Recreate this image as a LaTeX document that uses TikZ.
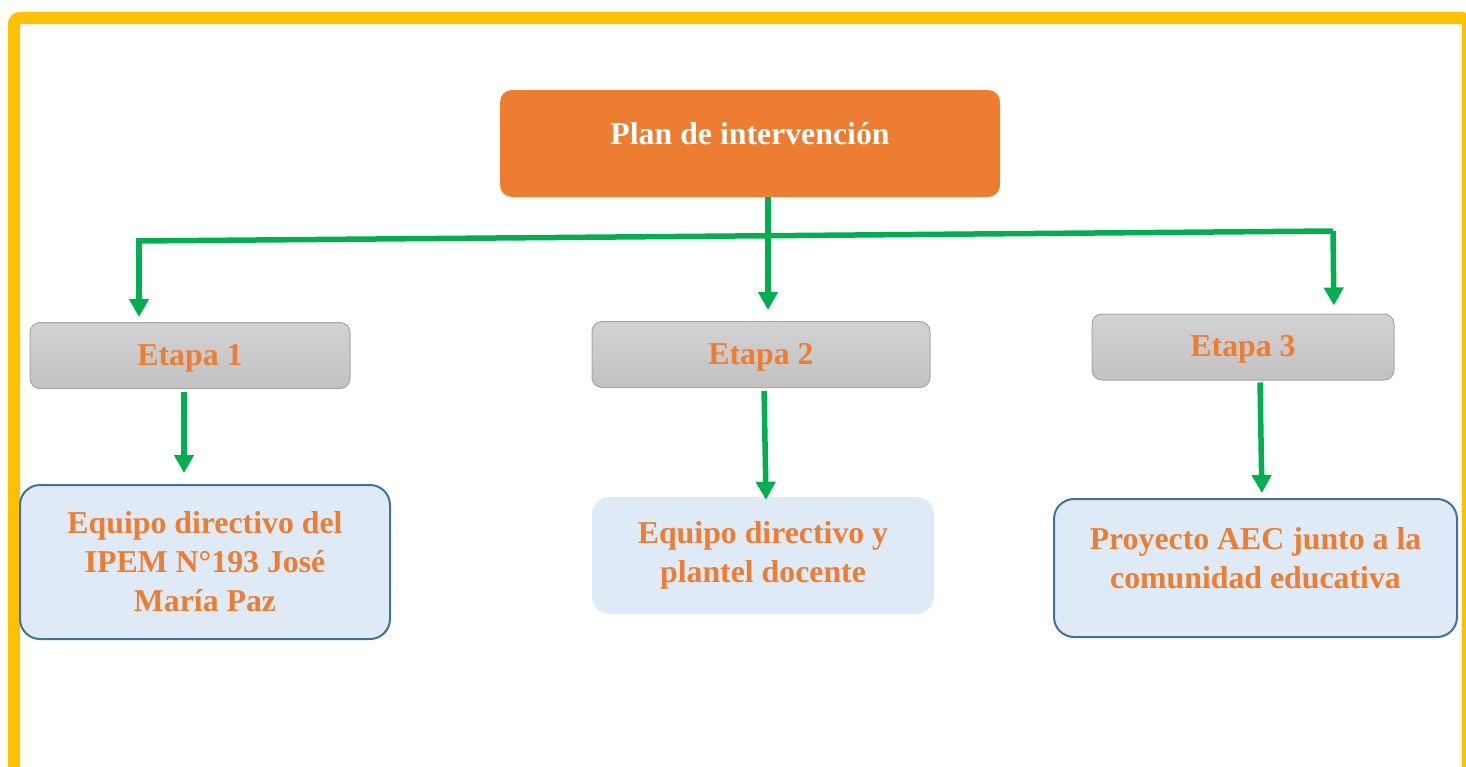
\documentclass[tikz,border=0pt]{standalone}
\usepackage{fontspec}
\setmainfont{Liberation Serif}
\usetikzlibrary{arrows.meta}

\definecolor{planorange}{HTML}{ED7D31}
\definecolor{linkgreen}{HTML}{00B050}
\definecolor{frameyellow}{HTML}{FFC000}
\definecolor{boxblue}{HTML}{DEEAF6}
\definecolor{boxedge}{HTML}{41719C}
\definecolor{grayedge}{HTML}{A6A6A6}

\tikzset{
  plan/.style={rectangle, rounded corners=12pt, fill=planorange, text=white,
    inner sep=0pt, minimum width=500pt, minimum height=107pt, text depth=20pt},
  etapa/.style={rectangle, rounded corners=10pt, draw=grayedge, line width=1pt,
    top color=gray!35, bottom color=gray!48, text=planorange,
    inner sep=0pt, minimum height=66pt, text depth=2pt},
  grupo/.style={rectangle, rounded corners=20pt, fill=boxblue, text=planorange,
    align=center, inner sep=0pt},
  link/.style={draw=linkgreen, line width=5.5pt},
  arrowlink/.style={link, -{Triangle[width=19pt,length=18pt]}},
}

\begin{document}
\begin{tikzpicture}[x=1pt, y=-1pt, font=\fontsize{31.8}{39}\selectfont\bfseries]
    \useasboundingbox (0,0) rectangle (1466,766);
    \clip (0,0) rectangle (1466,766);

    % Frame
    \draw[frameyellow, line width=12pt, rounded corners=6pt] (14,18) rectangle (1468,790);

    % Draw nodes
    \node[plan] (plan) at (750,143.5) {Plan de intervención};
    \node[etapa, minimum width=320pt] (etapa1) at (190,355.5) {Etapa 1};
    \node[etapa, minimum width=338pt] (etapa2) at (761,354.5) {Etapa 2};
    \node[etapa, minimum width=302pt] (etapa3) at (1243,347) {Etapa 3};

    \node[grupo, draw=boxedge, line width=2pt, minimum width=370pt, minimum height=154pt]
        (grupo1) at (205,562) {Equipo directivo del\\IPEM N°193 José\\María Paz};
    \node[grupo, minimum width=342pt, minimum height=117pt, rounded corners=18pt]
        (grupo2) at (763,555.5) {Equipo directivo y\\plantel docente};
    \node[grupo, draw=boxedge, line width=2pt, minimum width=403pt, minimum height=138pt,
        text depth=20pt] (grupo3) at (1255.5,568) {Proyecto AEC junto a la\\comunidad educativa};

    % Bus coordinates
    \coordinate (busL) at (139,241);
    \coordinate (busR) at (1333,231);

    % Draw edges
    \draw[link] (136,241) -- (busR);
    \draw[arrowlink, shorten >=5pt] (busL) -- (busL |- etapa1.north);
    \draw[arrowlink, shorten >=8pt] (busR) -- ([xshift=91pt]etapa3.north);
    \draw[arrowlink, shorten >=11pt] ([xshift=18pt]plan.south) -- ([xshift=7pt]etapa2.north);

    \draw[arrowlink, shorten <=3pt, shorten >=11pt] ([xshift=-6pt]etapa1.south) -- ([xshift=-21pt]grupo1.north);
    \draw[arrowlink, shorten <=3pt, shorten >=-3pt] ([xshift=3pt]etapa2.south) -- ([xshift=3pt]grupo2.north);
    \draw[arrowlink, shorten <=2pt, shorten >=5pt] ([xshift=17pt]etapa3.south) -- ([xshift=6.5pt]grupo3.north);
\end{tikzpicture}
\end{document}
